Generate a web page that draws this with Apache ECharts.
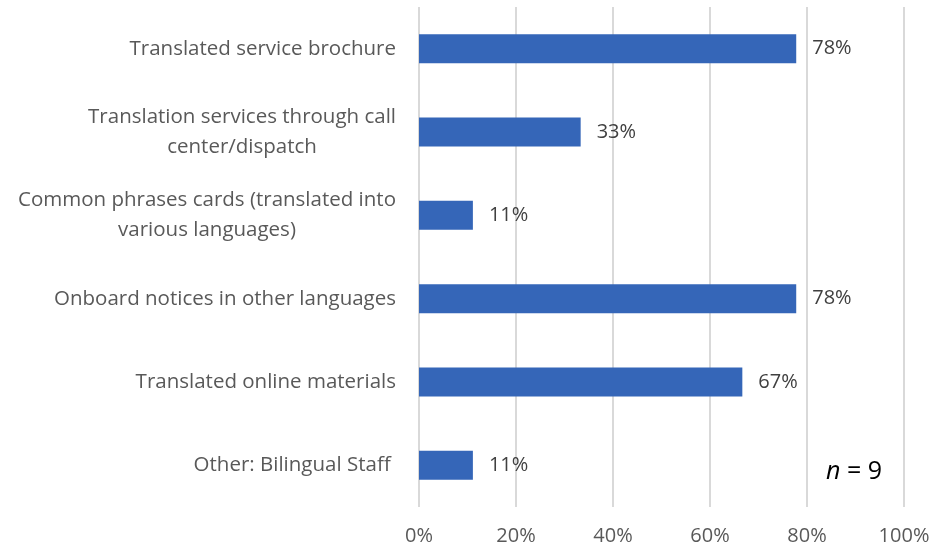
<!DOCTYPE html>
<html><head><meta charset="utf-8">
<script src="https://cdn.jsdelivr.net/npm/echarts@6/dist/echarts.min.js"></script>
<style>html,body{margin:0;padding:0;background:#fff}#c{width:941px;height:548px}</style>
</head><body><div id="c"></div>
<script>
const categories = [
  "Translated service brochure",
  "Translation services through call\ncenter/dispatch",
  "Common phrases cards (translated into\nvarious languages)",
  "Onboard notices in other languages",
  "Translated online materials",
  "Other: Bilingual Staff "
];
const values = [7/9, 3/9, 1/9, 7/9, 6/9, 1/9];
const xTicks = [0, 0.2, 0.4, 0.6, 0.8, 1.0];
const note = "n = 9";

const chart = echarts.init(document.getElementById('c'), null, {renderer: 'canvas'});
const FONT = 'Open Sans';
const FS = 20;
const FSC = 20.5;
chart.setOption({
  animation: false,
  grid: {left: 419, right: 37, top: 7, bottom: 41},
  xAxis: {
    type: 'value', min: 0, max: 1, interval: 0.2,
    axisLine: {show: false}, axisTick: {show: false},
    splitLine: {lineStyle: {color: '#d9d9d9', width: 2}},
    axisLabel: {formatter: v => Math.round(v*100) + '%', color: '#595959', fontSize: FS, fontFamily: FONT, margin: 19}
  },
  yAxis: {
    type: 'category', inverse: true, data: categories,
    axisLine: {show: false}, axisTick: {show: false},
    axisLabel: {color: '#595959', fontSize: FSC, fontFamily: FONT, align: 'right', margin: 23, lineHeight: 30,
      formatter: v => v.split('\n').map(l => '{c|' + l + '}').join('\n'),
      rich: {c: {align: 'center', color: '#595959', fontSize: FSC, fontFamily: FONT, lineHeight: 30}}}
  },
  series: [{
    type: 'bar', data: values, barWidth: 29,
    itemStyle: {color: '#3566B8'},
    label: {show: true, position: 'right', distance: 16, color: '#404040', fontSize: FS, fontFamily: FONT,
      formatter: p => Math.round(p.value*100) + '%'}
  }],
  graphic: [{
    type: 'text', left: 826, top: 459,
    style: {rich: {i: {fontStyle: 'italic', fontSize: 25, fontFamily: FONT, fill: '#000'}, r: {fontSize: 25, fontFamily: FONT, fill: '#000'}},
      text: '{i|n}{r| = 9}'}
  }]
});
</script></body></html>
